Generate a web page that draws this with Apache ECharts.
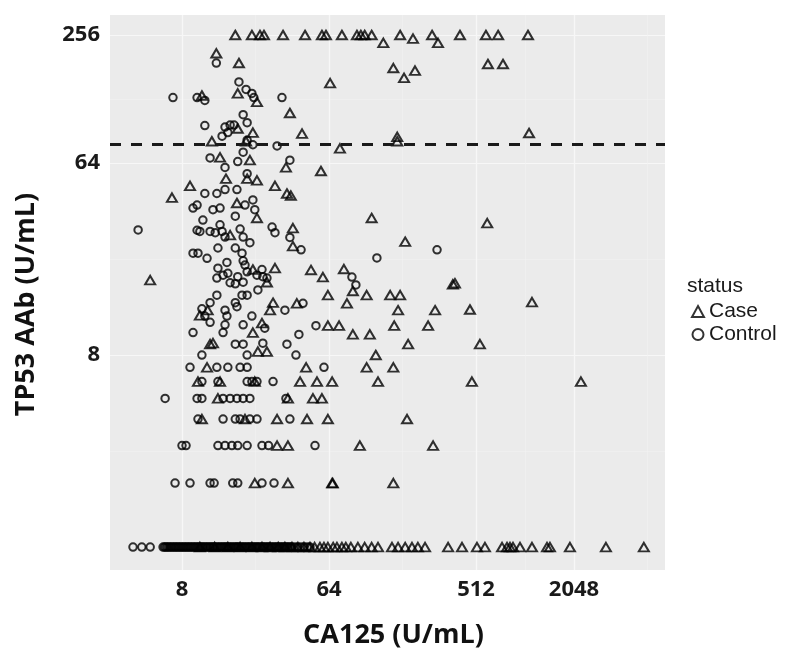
<!DOCTYPE html>
<html><head><meta charset="utf-8">
<script src="https://cdn.jsdelivr.net/npm/echarts@6/dist/echarts.min.js"></script>
<style>html,body{margin:0;padding:0;background:#fff}#c{width:803px;height:650px}</style>
</head><body><div id="c"></div>
<script>
// ---- tick labels / reference values ----
const xTicks = [8, 64, 512, 2048];
const yTicks = [8, 64, 256];
const xMinor = [22.6, 181, 1024, 5793];
const yMinor = [2.83, 22.6, 128];
const cutoff = 78;
const xMin = 2.889, xMax = 7418;
const yMin = 0.78, yMax = 317.9;

// ---- Case (triangles) ----
const caseCA125 = [
  17.0,21.5,24.1,25.5,33.4,45.6,57.9,61.3,76.8,95,100.4,106,117,175,210,275,408,589,700,1068,138,299,
  13.0,17.9,10.6,17.6,23.1,36.8,17.6,21.8,12.2,19.8,13.7,20.9,34.8,14.9,20.1,23.1,8.96,6.94,29.8,35.3,
  159,216,185,65,43.7,168,168,74.7,57.1,37.3,606,750,1084,600,380,470,1130,541,483,2258,
  117,38.4,38.4,188,49.6,58.7,79,89.7,369,63,82.5,109,152,175,40.6,170,287,63,73.8,161,260,89.7,114,196,124,
  46.3,109,159,11.4, 42.5,54,66.9,128,10.03,13.7,22.4, 35.8,51,57.9,13.3, 46.9,63,193,10.6,19.5,30.7, 35.8,99,279,30.7, 35.8,66.9,67.5,159,22.4,
  17.4,23.1,15.8,21.8,29.8,26.6,5.1,11.5,10.3,29,27.8,12.4,11.9,21.8,24.8,26.6,23.4,
  10.3,12.7,15.3,18.2,21.5,24.8,27.8,31.2,34.3,37.9,41.2,44.9,48.9,52.2,56.3,59.6,63,67.9,71.6,76.8,81.2,87.2,96.3,106,117,128,156,170,188,207,225,249,345,420,519,581,740,794,828,864,954,1130,1398,1457,1933,3216,5500
];
const caseTP53 = [
  256,256,256,256,256,256,256,256,256,256,256,256,256,256,246,256,256,256,256,256,235,235,
  210,189,133,136,124,110,93,89,81,81,68,66,61,54,54,53,50,44,50,46,
  179,174,161,152,88,85,81,75,58.7,45,187,187,88.6,33.4,17.4,13.1,14.2,9,6,6,
  35.3,31.6,26,27.3,20.1,18.6,20.3,16,17.2,15.3,14,15.3,15.3,15.3,14,13,13,11,11,11,11,10,10,9,8,
  7,7,7,7, 6,6,6,6,6,6,6, 5,5,5,5, 4,4,4,4,4,4, 3,3,3,3, 2,2,2,2,2,
  41.5,35.3,29.3,20.2,20.5,17.6,18,13,12.3,14.1,13,9.1,9,10.2,11.3,8.3,8.3,
  1,1,1,1,1,1,1,1,1,1,1,1,1,1,1,1,1,1,1,1,1,1,1,1,1,1,1,1,1,1,1,1,1,1,1,1,1,1,1,1,1,1,1,1,1,1,1
];

// ---- Control (circles) ----
const controlCA125 = [
  13.0,7.04,9.9,11.05,17.9,19.8,21.5,22.1,32.9,11.05,19.0,20.1,14.7,15.8,16.7,14.1,15.3,20.1,21.8,30.7,11.9,14.7,17.6,19.0,36.8,20.1,11.05,13.1,14.7,17.4,
  36.8,43.1,295,126,88.5,93.6,44.3,34.3,53.2,41.8,35.3,40.1,59.6,36.8,52.5,
  9.35,9.9,12.4,13.7,17.0,19.5,21.8,22.4,10.75,4.3,9.9,10.3,11.9,12.8,13.7,14.1,14.7,18.2,19.0,20.9,28.6,29.8,9.35,10.03,11.4,13.3,15.1,17.0,18.7,19.0,19.5,
  13.3,13.1,14.3,15.3,15.8,17.6,17.0,19.0,20.1,23.1,24.8,25.1,26.6,23.4,13.1,11.9,10.6,11.05,11.9,14.7,15.1,14.7,14.3,17.0,18.7,20.1,17.4,21.5,19.0,9.35,17.0,19.0,25.8,25.1,10.6,20.1,
  8.96,13.1,15.3,18.2,20.1, 10.6,13.3,20.1,21.5,23.1,29, 6.3,9.9,10.6,14.3,15.8,17.4,19.0,20.9,34.8, 10.03,14.3,17.0,18.2,20.9,23.1, 8,8.47,13.3,14.7,16.2,17.6,20.1,24.8,27.2, 7.25,8.96,11.9,12.6,16.4,17.6,24.8,29.4,
  4.0,4.53,5.1,6.12,6.38,6.65,6.94,7.25,7.56,7.89,8.23,8.59,8.96,9.35,9.75,10.17,10.6,11.05,11.5,12.0,12.5,13.1,13.7,14.3,14.9,15.5,16.2,17.0,17.6,18.4,19.2,20.1,20.9,21.8,22.8,23.7,24.8,25.8,27.0,28.1,29.4,30.7,32.0,33.4,34.8,36.3,37.9,39.5,41.2,43.0,44.9,46.9,48.9,
  6.25,6.51,6.8,7.1,7.4,7.72,8.06,8.41,8.77,9.15,9.55,9.96,10.4,10.8,11.3,11.8,12.3,12.8,13.4,14.0,14.6,15.2,15.9,16.6,17.3,18.0,18.8,19.6,20.5,21.4,22.3,23.2,24.2,25.3,26.4,27.5,28.7,30.0,31.3,32.7,34.1,35.5,37.1
];
const controlTP53 = [
  189,130,130,126,154,142,136,130,130,96,108,99,94.5,96.5,96.5,85.6,89,82,78,77,67.6,61,65,72,66,57,46,46,48,48,
  28.6,25,25,22.9,18.6,17.1,14,13,11,10,9,8,7,4,3,
  39.3,40.6,38.6,39.3,36,40.6,42.9,38.6,34.5,31,30.9,30.5,30.5,30.1,32.8,30.5,28.7,31.3,28.7,27,32,30.1,24.1,24.1,22.8,25.5,21.8,25.5,24.1,22.2,21.2,
  20.5,18.4,19,19.4,17.5,18.7,17.3,17.6,19.7,19,20.2,18.7,18.4,16.2,15.3,14.1,13.2,12.2,11.4,13,12.2,11.1,10.2,14.1,15.3,15.3,13.5,12.2,11.1,10.2,9,9,10.7,9.1,8,8,
  7,7,7,7,7, 6,6,6,6,6,6, 5,5,5,5,5,5,5,5,5, 4,4,4,4,4,4, 3,3,3,3,3,3,3,3,3, 2,2,2,2,2,2,2,2,
  1,1,1,1,1,1,1,1,1,1,1,1,1,1,1,1,1,1,1,1,1,1,1,1,1,1,1,1,1,1,1,1,1,1,1,1,1,1,1,1,1,1,1,1,1,1,1,1,1,1,1,1,1,
  1,1,1,1,1,1,1,1,1,1,1,1,1,1,1,1,1,1,1,1,1,1,1,1,1,1,1,1,1,1,1,1,1,1,1,1,1,1,1,1,1,1,1
];

const chart = echarts.init(document.getElementById('c'), null, {renderer: 'canvas'});
function pairs(xs, ys) { return xs.map((x, i) => [x, ys[i]]); }

const tickFont = {fontFamily: 'Open Sans', fontWeight: 'bold', fontSize: 22, color: '#1a1a1a'};
const nameFont = {fontFamily: 'Open Sans', fontWeight: 'bold', fontSize: 27, color: '#111'};
const pointStyle = {color: 'rgba(0,0,0,0)', borderColor: '#000000', borderWidth: 2};

const option = {
  animation: false,
  backgroundColor: '#ffffff',
  title: {
    text: 'status', left: 687, top: 276, padding: 0,
    textStyle: {fontFamily: 'Liberation Sans', fontSize: 21, fontWeight: 'normal', color: '#1a1a1a'}
  },
  legend: {
    orient: 'vertical', left: 691, top: 301, padding: 0,
    itemWidth: 12, itemHeight: 11, itemGap: 2,
    textStyle: {fontFamily: 'Liberation Sans', fontSize: 21, color: '#1a1a1a'},
    data: ['Case', 'Control']
  },
  grid: {
    left: 110, top: 15, width: 555, height: 555,
    show: true, backgroundColor: '#EBEBEB', borderWidth: 0,
    containLabel: false, outerBoundsMode: 'none'
  },
  xAxis: [
    {
      type: 'log', logBase: 2, min: xMin, max: xMax,
      name: 'CA125 (U/mL)', nameLocation: 'middle', nameGap: 52, nameMoveOverlap: false,
      nameTextStyle: Object.assign({padding: [0, 0, 0, 12]}, nameFont),
      axisLine: {show: false},
      axisTick: {show: false, customValues: xTicks},
      axisLabel: Object.assign({customValues: xTicks, margin: 9, formatter: (v) => String(v)}, tickFont),
      splitLine: {show: true, lineStyle: {color: '#F7F7F7', width: 1.2}}
    },
    {
      type: 'log', logBase: 2, min: xMin, max: xMax,
      axisLine: {show: false},
      axisTick: {show: false, customValues: xMinor},
      axisLabel: {show: false, customValues: xMinor},
      splitLine: {show: true, lineStyle: {color: '#F2F2F2', width: 0.6}}
    }
  ],
  yAxis: [
    {
      type: 'log', logBase: 2, min: yMin, max: yMax,
      name: 'TP53 AAb (U/mL)', nameLocation: 'middle', nameGap: 70, nameMoveOverlap: false,
      nameTextStyle: Object.assign({padding: [0, 24, 0, 0]}, nameFont),
      axisLine: {show: false},
      axisTick: {show: false, customValues: yTicks},
      axisLabel: Object.assign({customValues: yTicks, margin: 10, formatter: (v) => String(v)}, tickFont),
      splitLine: {show: true, lineStyle: {color: '#F7F7F7', width: 1.2}}
    },
    {
      type: 'log', logBase: 2, min: yMin, max: yMax,
      axisLine: {show: false},
      axisTick: {show: false, customValues: yMinor},
      axisLabel: {show: false, customValues: yMinor},
      splitLine: {show: true, lineStyle: {color: '#F2F2F2', width: 0.6}}
    }
  ],
  series: [
    {
      name: 'Control', type: 'scatter', xAxisIndex: 0, yAxisIndex: 0,
      symbol: 'circle', symbolSize: 7.5,
      itemStyle: pointStyle,
      emphasis: {disabled: true},
      data: pairs(controlCA125, controlTP53)
    },
    {
      name: 'Case', type: 'scatter', xAxisIndex: 0, yAxisIndex: 0,
      symbol: 'triangle', symbolSize: [10, 8.5],
      itemStyle: pointStyle,
      emphasis: {disabled: true},
      data: pairs(caseCA125, caseTP53),
      markLine: {
        silent: true, symbol: ['none', 'none'], label: {show: false},
        lineStyle: {color: '#1a1a1a', type: [11, 10], width: 2.8},
        data: [{yAxis: cutoff}]
      }
    }
  ]
};
chart.setOption(option);
</script>
</body></html>
